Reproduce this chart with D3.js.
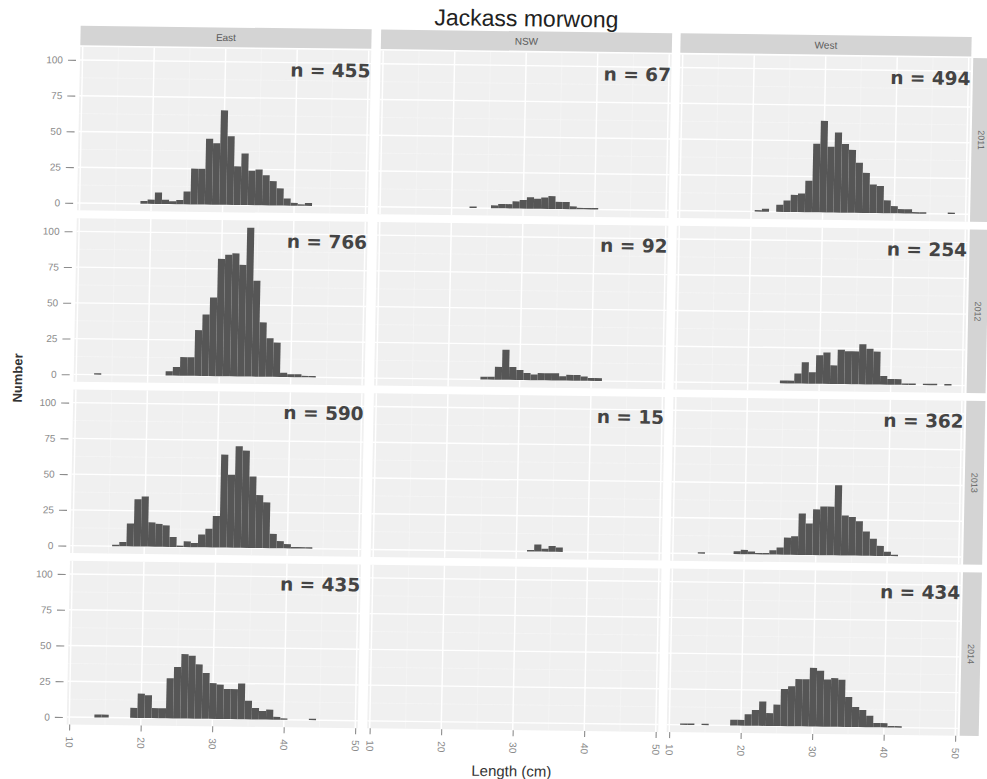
<!DOCTYPE html>
<html>
<head>
<meta charset="utf-8">
<script src="https://cdn.jsdelivr.net/npm/d3@7"></script>
<style>
  body { margin: 0; background: #ffffff; }
  svg { display: block; }
</style>
</head>
<body>
<svg id="chart" width="987" height="779"></svg>
<script>
// Facet labels and axis ticks
const regions = ["East", "NSW", "West"];
const years = ["2011", "2012", "2013", "2014"];
const xTicks = [10, 20, 30, 40, 50];
const yTicks = [0, 25, 50, 75, 100];

// Length-frequency bins: [length class (cm), number of fish]
const east2011 = [[19,2],[20,3],[21,8],[22,3],[23,2],[24,3],[25,9],[26,25],[27,25],[28,46],[29,43],[30,66],[31,48],[32,27],[33,36],[34,24],[35,25],[36,21],[37,17],[38,12],[39,5],[40,2],[41,1],[42,2]];
const east2012 = [[13,1],[23,3],[24,6],[25,13],[26,13],[27,32],[28,43],[29,55],[30,82],[31,85],[32,86],[33,78],[34,104],[35,67],[36,38],[37,27],[38,24],[39,3],[40,2],[41,2],[42,1],[43,1]];
const east2013 = [[16,1],[17,3],[18,16],[19,33],[20,35],[21,17],[22,16],[23,15],[24,7],[25,1],[26,4],[27,3],[28,9],[29,13],[30,22],[31,65],[32,51],[33,71],[34,68],[35,50],[36,37],[37,32],[38,10],[39,5],[40,3],[41,1],[42,1],[43,1]];
const east2014 = [[14,2],[15,2],[19,7],[20,17],[21,16],[22,7],[23,7],[24,28],[25,36],[26,45],[27,44],[28,38],[29,32],[30,25],[31,24],[32,21],[33,21],[34,25],[35,13],[36,8],[37,6],[38,7],[39,2],[40,1],[44,1]];

const nsw2011 = [[23,1],[26,2],[27,3],[28,3],[29,5],[30,6],[31,8],[32,7],[33,8],[34,9],[35,5],[36,5],[37,2],[38,1],[39,1],[40,1]];
const nsw2012 = [[25,2],[26,2],[27,9],[28,21],[29,9],[30,7],[31,5],[32,4],[33,5],[34,5],[35,5],[36,3],[37,4],[38,4],[39,3],[40,2],[41,2]];
const nsw2013 = [[32,1],[33,5],[34,2],[35,4],[36,3]];
const nsw2014 = [];

const west2011 = [[21,1],[22,2],[24,5],[25,8],[26,12],[27,13],[28,22],[29,48],[30,64],[31,46],[32,56],[33,48],[34,44],[35,35],[36,28],[37,20],[38,19],[39,9],[40,5],[41,3],[42,3],[43,1],[44,1],[48,1]];
const west2012 = [[25,2],[26,2],[27,7],[28,15],[29,8],[30,20],[31,22],[32,13],[33,24],[34,23],[35,23],[36,28],[37,25],[38,23],[39,6],[40,4],[41,4],[42,1],[43,1],[45,1],[46,1],[48,1]];
const west2013 = [[14,1],[19,2],[20,3],[21,2],[22,1],[23,1],[24,3],[25,5],[26,12],[27,13],[28,29],[29,22],[30,32],[31,34],[32,34],[33,49],[34,28],[35,27],[36,24],[37,17],[38,12],[39,7],[40,3],[41,1]];
const west2014 = [[12,1],[13,1],[15,1],[19,4],[20,4],[21,8],[22,11],[23,17],[24,9],[25,15],[26,26],[27,28],[28,33],[29,33],[30,41],[31,39],[32,33],[33,34],[34,33],[35,21],[36,14],[37,12],[38,8],[39,3],[40,3],[41,1],[42,1]];

// grid of panels: columns = region, rows = year
const panelBins = [
  [east2011, nsw2011, west2011],
  [east2012, nsw2012, west2012],
  [east2013, nsw2013, west2013],
  [east2014, nsw2014, west2014]
];

// ---- layout ----
const colLeft = [73.5, 374, 673.5];
const rowTop = [52.1, 223.5, 394.8, 566.2];
const panelW = 291;
const panelH = 163.6;

const x = d3.scaleLinear().domain([9.65, 50.35]).range([0, panelW]);
const y = d3.scaleLinear().domain([-5.2, 109.2]).range([panelH, 0]);

const FONT = "'Liberation Sans', Arial, sans-serif";
const svg = d3.select("#chart");

// the whole figure sits slightly skewed on the page
const root = svg.append("g")
  .attr("transform", "matrix(1,0.0127,-0.02,1,7.8,-6.26)");

// title
root.append("text")
  .attr("x", 519).attr("y", 26)
  .attr("text-anchor", "middle")
  .attr("font-family", FONT).attr("font-size", 23)
  .attr("fill", "#222222")
  .text("Jackass morwong");

// top strips (regions)
regions.forEach((r, c) => {
  const g = root.append("g").attr("transform", `translate(${colLeft[c]},31)`);
  g.append("rect").attr("width", panelW).attr("height", 19.5).attr("fill", "#d4d4d4");
  g.append("text")
    .attr("x", panelW / 2).attr("y", 13.5)
    .attr("text-anchor", "middle")
    .attr("font-family", FONT).attr("font-size", 10)
    .attr("fill", "#5a5a5a")
    .text(r);
});

// right strips (years)
years.forEach((yr, r) => {
  const g = root.append("g").attr("transform", `translate(966.5,${rowTop[r]})`);
  g.append("rect").attr("width", 19).attr("height", panelH).attr("fill", "#d4d4d4");
  g.append("text")
    .attr("transform", `translate(6.5,${panelH / 2}) rotate(90)`)
    .attr("text-anchor", "middle")
    .attr("font-family", FONT).attr("font-size", 9)
    .attr("fill", "#6a6a6a")
    .text(yr);
});

const minorX = [15, 25, 35, 45];
const minorY = [12.5, 37.5, 62.5, 87.5];

panelBins.forEach((row, r) => {
  row.forEach((bins, c) => {
    const g = root.append("g").attr("transform", `translate(${colLeft[c]},${rowTop[r]})`);
    g.append("rect").attr("width", panelW).attr("height", panelH).attr("fill", "#f0f0f0");

    // grid lines
    g.selectAll(".mx").data(minorX).join("line")
      .attr("x1", d => x(d)).attr("x2", d => x(d))
      .attr("y1", 0).attr("y2", panelH)
      .attr("stroke", "#f7f7f7").attr("stroke-width", 0.6);
    g.selectAll(".my").data(minorY).join("line")
      .attr("x1", 0).attr("x2", panelW)
      .attr("y1", d => y(d)).attr("y2", d => y(d))
      .attr("stroke", "#f7f7f7").attr("stroke-width", 0.6);
    g.selectAll(".gx").data(xTicks).join("line")
      .attr("x1", d => x(d)).attr("x2", d => x(d))
      .attr("y1", 0).attr("y2", panelH)
      .attr("stroke", "#ffffff").attr("stroke-width", 1.4);
    g.selectAll(".gy").data(yTicks).join("line")
      .attr("x1", 0).attr("x2", panelW)
      .attr("y1", d => y(d)).attr("y2", d => y(d))
      .attr("stroke", "#ffffff").attr("stroke-width", 1.4);

    // histogram bars (1 cm classes centred on whole centimetres)
    g.selectAll(".bar").data(bins).join("rect")
      .attr("x", d => x(d[0] - 0.5))
      .attr("width", d => x(d[0] + 0.5) - x(d[0] - 0.5))
      .attr("y", d => y(d[1]))
      .attr("height", d => y(0) - y(d[1]))
      .attr("fill", "#565656");

    // sample size
    if (bins.length) {
      g.append("text")
        .attr("x", x(50.3)).attr("y", y(95))
        .attr("dy", "0.36em")
        .attr("text-anchor", "end")
        .attr("font-family", "'DejaVu Sans', Verdana, sans-serif")
        .attr("font-weight", "bold").attr("font-size", 18.5)
        .attr("fill", "#444444")
        .text(`n = ${d3.sum(bins, d => d[1])}`);
    }

    // y axis on the left column
    if (c === 0) {
      const ax = g.append("g").call(d3.axisLeft(y).tickValues(yTicks).tickSize(12).tickPadding(5));
      ax.select(".domain").remove();
      ax.selectAll("line").attr("stroke", "#8c8c8c").attr("stroke-width", 1.1)
        .attr("x1", -4);
      ax.selectAll("text").attr("font-family", FONT).attr("font-size", 10).attr("fill", "#8a8a8a");
    }

    // x axis on the bottom row
    if (r === years.length - 1) {
      const ax = g.append("g").attr("transform", `translate(0,${panelH})`)
        .call(d3.axisBottom(x).tickValues(xTicks).tickSize(6).tickPadding(4));
      ax.select(".domain").remove();
      ax.selectAll("line").attr("stroke", "#8c8c8c").attr("stroke-width", 1.1);
      ax.selectAll("text")
        .attr("font-family", FONT).attr("font-size", 10).attr("fill", "#8a8a8a")
        .attr("text-anchor", "start")
        .attr("dy", null)
        .attr("transform", "rotate(90)")
        .attr("x", 12).attr("y", 0)
        .attr("dominant-baseline", "central");
    }
  });
});

// axis titles
root.append("text")
  .attr("x", 519).attr("y", 776)
  .attr("text-anchor", "middle")
  .attr("font-family", FONT).attr("font-size", 15)
  .attr("fill", "#333333")
  .text("Length (cm)");

root.append("text")
  .attr("transform", "translate(22,384) rotate(-90)")
  .attr("text-anchor", "middle")
  .attr("font-family", FONT).attr("font-size", 13).attr("font-weight", "bold")
  .attr("fill", "#333333")
  .text("Number");
</script>
</body>
</html>
